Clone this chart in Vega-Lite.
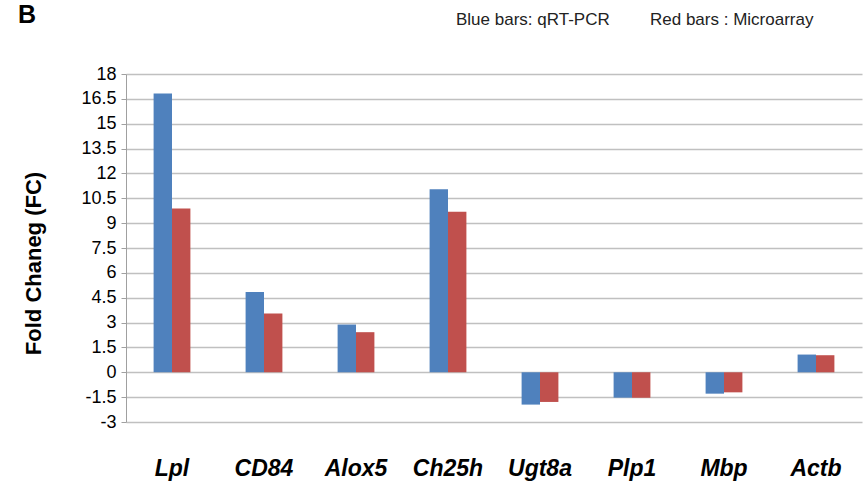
{
  "$schema": "https://vega.github.io/schema/vega-lite/v6.json",
  "width": 736,
  "height": 348,
  "autosize": {"type": "none"},
  "padding": {"left": 126, "top": 74, "right": 4, "bottom": 63},
  "background": "white",
  "title": {
    "text": "B",
    "anchor": "start",
    "frame": "group",
    "dx": -108,
    "offset": 0,
    "dy": 37,
    "baseline": "alphabetic",
    "font": "Liberation Sans",
    "fontSize": 25,
    "fontWeight": "bold",
    "color": "black"
  },
  "data": {
    "values": [
      {"gene": "Lpl", "method": "qRT-PCR", "fc": 16.83},
      {"gene": "Lpl", "method": "Microarray", "fc": 9.88},
      {"gene": "CD84", "method": "qRT-PCR", "fc": 4.85},
      {"gene": "CD84", "method": "Microarray", "fc": 3.54},
      {"gene": "Alox5", "method": "qRT-PCR", "fc": 2.88},
      {"gene": "Alox5", "method": "Microarray", "fc": 2.42},
      {"gene": "Ch25h", "method": "qRT-PCR", "fc": 11.05},
      {"gene": "Ch25h", "method": "Microarray", "fc": 9.68},
      {"gene": "Ugt8a", "method": "qRT-PCR", "fc": -1.95},
      {"gene": "Ugt8a", "method": "Microarray", "fc": -1.79},
      {"gene": "Plp1", "method": "qRT-PCR", "fc": -1.53},
      {"gene": "Plp1", "method": "Microarray", "fc": -1.53},
      {"gene": "Mbp", "method": "qRT-PCR", "fc": -1.29},
      {"gene": "Mbp", "method": "Microarray", "fc": -1.21},
      {"gene": "Actb", "method": "qRT-PCR", "fc": 1.07},
      {"gene": "Actb", "method": "Microarray", "fc": 1.03}
    ]
  },
  "mark": {"type": "bar", "cornerRadius": 0},
  "encoding": {
    "x": {
      "field": "gene",
      "type": "nominal",
      "sort": ["Lpl", "CD84", "Alox5", "Ch25h", "Ugt8a", "Plp1", "Mbp", "Actb"],
      "scale": {"paddingInner": 0.6, "paddingOuter": 0.3},
      "axis": {
        "title": null,
        "orient": "bottom",
        "domain": false,
        "ticks": false,
        "grid": false,
        "labelAngle": 0,
        "labelFont": "Liberation Sans",
        "labelFontSize": 23,
        "labelFontWeight": "bold",
        "labelFontStyle": "italic",
        "labelColor": "black",
        "labelBaseline": "alphabetic",
        "labelPadding": 53
      }
    },
    "xOffset": {
      "field": "method",
      "type": "nominal",
      "sort": ["qRT-PCR", "Microarray"],
      "scale": {"paddingInner": 0, "paddingOuter": 0}
    },
    "y": {
      "field": "fc",
      "type": "quantitative",
      "scale": {"domain": [-3, 18], "nice": false, "zero": false},
      "axis": {
        "title": "Fold Chaneg (FC)",
        "values": [-3, -1.5, 0, 1.5, 3, 4.5, 6, 7.5, 9, 10.5, 12, 13.5, 15, 16.5, 18],
        "labelExpr": "'' + datum.value",
        "labelFont": "Liberation Sans",
        "labelFontSize": 18,
        "labelColor": "black",
        "labelPadding": 5,
        "tickSize": 5,
        "tickColor": "#a0a0a0",
        "domainColor": "#a0a0a0",
        "grid": true,
        "gridColor": "#c0c0c0",
        "gridWidth": 1.3,
        "titleFont": "Liberation Sans",
        "titleFontSize": 22,
        "titleFontWeight": "bold",
        "titleColor": "black",
        "titleX": -93,
        "titleY": 189,
        "titleAngle": -90,
        "titleAlign": "center",
        "titleBaseline": "middle"
      }
    },
    "color": {
      "field": "method",
      "type": "nominal",
      "scale": {"domain": ["qRT-PCR", "Microarray"], "range": ["#4F81BD", "#C0504D"]},
      "legend": {
        "title": null,
        "orient": "none",
        "legendX": 313,
        "legendY": -63,
        "direction": "horizontal",
        "symbolSize": 0,
        "symbolOpacity": 0,
        "symbolStrokeWidth": 0,
        "labelOffset": 0,
        "columnPadding": 23,
        "labelFont": "Liberation Sans",
        "labelFontSize": 17,
        "labelColor": "#222222",
        "labelLimit": 400,
        "labelExpr": "datum.label == 'qRT-PCR' ? 'Blue bars: qRT-PCR' : 'Red bars : Microarray'"
      }
    }
  },
  "config": {
    "view": {"stroke": null},
    "axis": {"gridCap": "butt"}
  }
}
